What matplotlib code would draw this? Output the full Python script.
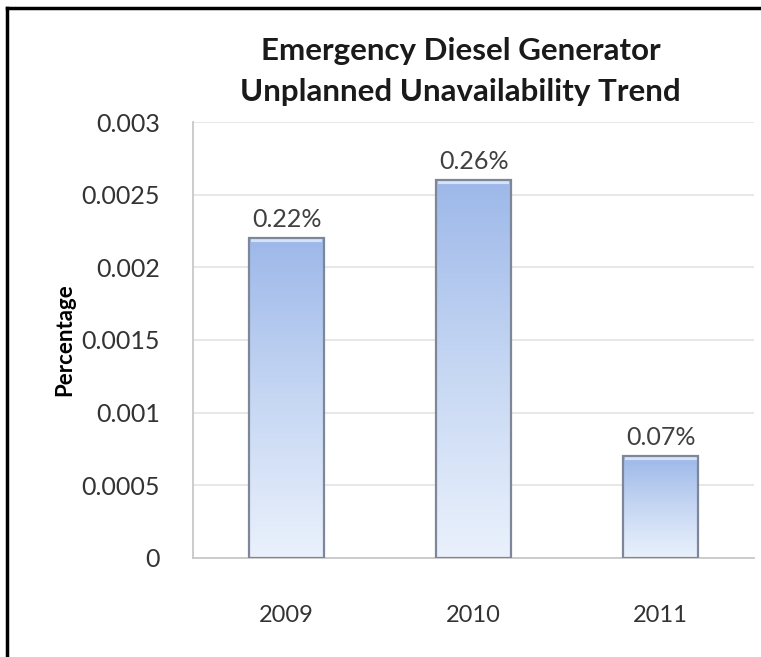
import numpy as np
import matplotlib.pyplot as plt
from matplotlib.lines import Line2D
from matplotlib.colors import LinearSegmentedColormap

# dados
anos = ['2009', '2010', '2011']
indisponibilidade = [0.0022, 0.0026, 0.0007]
rotulos = ['0.22%', '0.26%', '0.07%']
yticks = [0, 0.0005, 0.001, 0.0015, 0.002, 0.0025, 0.003]
ytick_labels = ['0', '0.0005', '0.001', '0.0015', '0.002', '0.0025', '0.003']

plt.rcParams['font.family'] = ['Lato', 'DejaVu Sans']

fig = plt.figure(figsize=(7.61, 6.57), dpi=100)
ax = fig.add_axes([0.2536, 0.1507, 0.7374, 0.6636])

x = np.arange(len(anos))
barras = ax.bar(x, indisponibilidade, width=0.40, color='none',
                edgecolor='#7d8799', linewidth=1.6, zorder=3)

# gradiente vertical dentro das barras
cmap = LinearSegmentedColormap.from_list('grad', ['#eaf1fc', '#c6d7f3', '#9db8e9'])
grad = np.linspace(0, 1, 256).reshape(-1, 1)
for b in barras:
    x0, y0 = b.get_x(), b.get_y()
    w, h = b.get_width(), b.get_height()
    im = ax.imshow(grad, cmap=cmap, origin='lower', aspect='auto',
                   extent=[x0, x0 + w, y0, y0 + h], zorder=2)
    im.set_clip_path(b)
    # brilho no topo
    ax.plot([x0 + w * 0.02, x0 + w * 0.98], [y0 + h - 0.000012] * 2,
            color='#d6e2f7', lw=3, zorder=2.5, solid_capstyle='butt')

for xi, v, r in zip(x, indisponibilidade, rotulos):
    ax.text(xi, v + 0.00005, r, ha='center', va='bottom', fontsize=18, color='#404040')

ax.set_xlim(-0.5, 2.5)
ax.set_ylim(0, 0.003)
ax.set_xticks(x)
ax.set_xticklabels(anos, fontsize=17, color='#333333')
ax.set_yticks(yticks)
ax.set_yticklabels(ytick_labels, fontsize=18, color='#333333')
ax.tick_params(length=0)
ax.tick_params(axis='x', pad=34)
ax.tick_params(axis='y', pad=24)
ax.grid(axis='y', color='#e3e3e3', linewidth=1.2, zorder=0)
ax.set_axisbelow(True)
for s in ['top', 'right']:
    ax.spines[s].set_visible(False)
for s in ['left', 'bottom']:
    ax.spines[s].set_color('#c8c8c8')
    ax.spines[s].set_linewidth(1.3)

ax.set_ylabel('Percentage', fontsize=16, fontweight='bold')
ax.yaxis.set_label_coords(-0.21, 0.5)

fig.text(0.605, 0.923, 'Emergency Diesel Generator', ha='center', va='center',
         fontsize=22.5, fontweight='bold', color='#1a1a1a')
fig.text(0.605, 0.860, 'Unplanned Unavailability Trend', ha='center', va='center',
         fontsize=22.5, fontweight='bold', color='#1a1a1a')

# moldura
fig.add_artist(Line2D([7 / 761, 7 / 761], [0, 1 - 8 / 657], color='black', lw=2.5))
fig.add_artist(Line2D([7 / 761, 1], [1 - 8 / 657, 1 - 8 / 657], color='black', lw=2.5))

fig.savefig('out.png', dpi=100)
